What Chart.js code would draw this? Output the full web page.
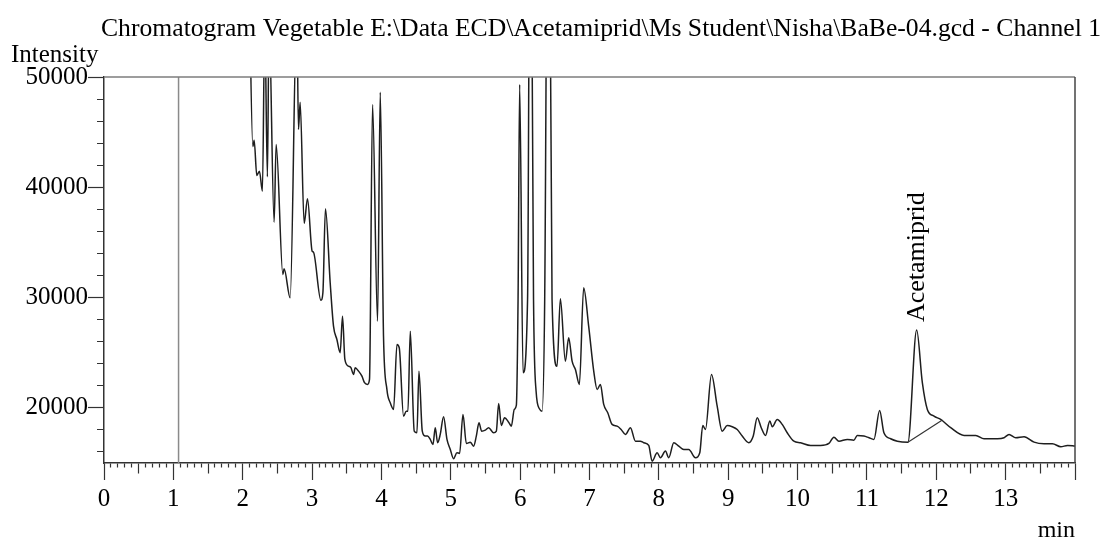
<!DOCTYPE html>
<html>
<head>
<meta charset="utf-8">
<script src="https://cdn.jsdelivr.net/npm/chart.js@4/dist/chart.umd.min.js"></script>
<style>
  html, body { margin: 0; padding: 0; background: #fff; }
  canvas { display: block; }
</style>
</head>
<body>
<canvas id="c" width="1107" height="543"></canvas>
<script>
// ---- Data ----
const titleText = "Chromatogram Vegetable E:\\Data ECD\\Acetamiprid\\Ms Student\\Nisha\\BaBe-04.gcd - Channel 1";
const yAxisLabel = "Intensity";
const xAxisLabel = "min";

// retention time (min)
const times = [
  2.09, 2.146, 2.165, 2.203, 2.241, 2.284, 2.318, 2.356, 2.38, 2.453,
  2.482, 2.579, 2.597, 2.684, 2.78, 2.804, 2.828, 2.886, 2.934, 3.001,
  3.020, 3.127, 3.156, 3.193, 3.261, 3.309, 3.358, 3.405, 3.439, 3.473,
  3.525, 3.560, 3.598, 3.622, 3.670, 3.719, 3.756, 3.799, 3.828, 3.872,
  3.944, 3.983, 4.030, 4.079, 4.127, 4.175, 4.224, 4.257, 4.319, 4.358,
  4.382, 4.416, 4.473, 4.512, 4.541, 4.589, 4.632, 4.665, 4.704, 4.743,
  4.776, 4.810, 4.848, 4.896, 4.945, 4.993, 5.040, 5.089, 5.127, 5.176,
  5.224, 5.281, 5.329, 5.368, 5.407, 5.444, 5.498, 5.545, 5.618, 5.657,
  5.690, 5.729, 5.776, 5.834, 5.873, 5.916, 5.945, 5.970, 5.993, 6.042,
  6.107, 6.147, 6.193, 6.23, 6.28, 6.316, 6.354, 6.407, 6.460, 6.532,
  6.580, 6.652, 6.700, 6.749, 6.797, 6.854, 6.916, 6.988, 7.061, 7.110,
  7.157, 7.205, 7.263, 7.326, 7.398, 7.456, 7.518, 7.590, 7.662, 7.734,
  7.782, 7.854, 7.903, 7.975, 8.023, 8.095, 8.143, 8.215, 8.287, 8.359,
  8.431, 8.528, 8.590, 8.633, 8.672, 8.759, 8.841, 8.913, 8.986, 9.058,
  9.130, 9.202, 9.297, 9.361, 9.418, 9.476, 9.538, 9.600, 9.635, 9.707,
  9.779, 9.851, 9.947, 10.043, 10.188, 10.332, 10.452, 10.524, 10.596, 10.717,
  10.812, 10.861, 10.957, 11.029, 11.101, 11.183, 11.245, 11.342, 11.438, 11.591,
  11.717, 11.799, 11.871, 11.967, 12.063, 12.208, 12.400, 12.569, 12.688, 12.882,
  12.977, 13.049, 13.146, 13.266, 13.410, 13.554, 13.675, 13.795, 13.892, 14.0
];
// detector intensity
const intensity = [
  60000, 43700, 44270, 41070, 41460, 39650, 55000, 40950, 55000, 36840,
  43880, 32100, 32610, 29980, 56000, 45240, 47720, 36720, 38960, 34210,
  34120, 29760, 30440, 38050, 31370, 27410, 26200, 25000, 28310, 24390,
  23780, 23640, 23030, 23640, 23330, 22870, 22280, 22120, 22580, 47510,
  27860, 48620, 26500, 21670, 20460, 19860, 25750, 25450, 19250, 19700,
  19700, 26950, 17890, 17740, 23330, 17890, 17440, 17440, 17140, 16680,
  18200, 16840, 17590, 19190, 17140, 16230, 15390, 15930, 15870, 19400,
  16770, 16890, 16530, 17440, 18650, 17890, 17980, 18200, 17740, 17890,
  20400, 18400, 19100, 18700, 18340, 19860, 20220, 29830, 49320, 23180,
  29830, 75000, 29830, 21500, 19900, 19700, 29830, 80000, 29830, 23780,
  29890, 24230, 26360, 24230, 23480, 22120, 30890, 27410, 23330, 21670,
  22120, 20310, 19560, 18500, 18340, 18040, 17590, 18200, 16980, 16980,
  16840, 16590, 15170, 15930, 15480, 16080, 15480, 16840, 16530, 16230,
  16230, 15480, 15930, 18400, 18040, 23030, 20150, 17890, 18400, 18290,
  18040, 17440, 16840, 17440, 19100, 18200, 17500, 18800, 18290, 18950,
  18500, 17740, 16980, 16840, 16590, 16590, 16770, 17340, 16980, 17140,
  17070, 17500, 17440, 17290, 17140, 19770, 17740, 17200, 16980, 16890,
  27050, 22280, 19860, 19250, 18950, 18200, 17500, 17500, 17200, 17200,
  17290, 17590, 17290, 17380, 16890, 16750, 16750, 16470, 16590, 16530
];

// injection / start marker
const markerTime = [1.075, 1.075];
const markerValue = [15000, 50000];

// integration baseline under the Acetamiprid peak
const baseTime = [11.591, 12.088];
const baseValue = [16890, 18890];

// peak annotation
const peakLabel = "Acetamiprid";
const peakTime = 11.717;
const peakValue = 27050;

// axis definitions
const xMin = 0, xMax = 14, xStep = 0.1;
const yMin = 15000, yMax = 50000, yStep = 1000, yMinor = 2000, yMajor = 10000;

const toPts = (xs, ys) => xs.map((t, i) => ({ x: t, y: ys[i] }));

const FONT = "'Liberation Serif', 'Times New Roman', serif";
Chart.defaults.font.family = FONT;
Chart.defaults.color = '#000';

const decor = {
  id: 'decor',
  afterDraw(chart) {
    const { ctx, chartArea: a, scales } = chart;
    const x = scales.x, y = scales.y;
    ctx.save();
    // top and right frame
    ctx.lineWidth = 1.5;
    ctx.strokeStyle = '#7d7d7d';
    ctx.beginPath(); ctx.moveTo(a.left, a.top); ctx.lineTo(a.right, a.top); ctx.stroke();
    ctx.strokeStyle = '#444';
    ctx.beginPath(); ctx.moveTo(a.right, a.top); ctx.lineTo(a.right, a.bottom); ctx.stroke();
    // title
    ctx.fillStyle = '#000';
    ctx.textAlign = 'left';
    ctx.textBaseline = 'alphabetic';
    ctx.font = '26px ' + FONT;
    ctx.fillText(titleText, 101, 36, 1000);
    // y label
    ctx.font = '25px ' + FONT;
    ctx.fillText(yAxisLabel, 11, 62);
    // peak annotation
    const px = x.getPixelForValue(peakTime);
    const py = y.getPixelForValue(peakValue);
    ctx.translate(px + 1, py - 8);
    ctx.rotate(-Math.PI / 2);
    ctx.textBaseline = 'middle';
    ctx.font = '26px ' + FONT;
    ctx.fillText(peakLabel, 0, 0);
    ctx.restore();
  }
};

const isInt = v => Math.abs(v - Math.round(v)) < 1e-6;
const yKind = v => {
  const r = Math.round(v);
  if (r % yMajor === 0) return 2;
  if (r % yMinor === 0 && r > yMin) return 1;
  return 0;
};

new Chart(document.getElementById('c'), {
  type: 'line',
  data: {
    datasets: [
      {
        data: toPts(markerTime, markerValue),
        borderColor: '#8a8a8a', borderWidth: 1.5, pointRadius: 0
      },
      {
        data: toPts(baseTime, baseValue),
        borderColor: '#333', borderWidth: 1.2, pointRadius: 0
      },
      {
        data: toPts(times, intensity),
        borderColor: '#1e1e1e', borderWidth: 1.5, pointRadius: 0,
        cubicInterpolationMode: 'monotone'
      }
    ]
  },
  options: {
    responsive: false,
    animation: false,
    devicePixelRatio: 1,
    layout: { padding: { top: 77, left: 0, right: 32, bottom: 0 } },
    plugins: { legend: { display: false }, tooltip: { enabled: false }, title: { display: false } },
    scales: {
      x: {
        type: 'linear', position: 'bottom',
        min: xMin, max: xMax,
        afterFit: s => { s.height = 80; },
        border: { display: true, color: '#333', width: 1.5 },
        grid: {
          drawOnChartArea: false, drawTicks: true, tickLength: 17,
          tickColor: '#333', tickWidth: 1.2,
          tickBorderDash: c => {
            const r = Math.round(c.tick.value * 10);
            if (r % 10 === 0) return [];
            if (r % 5 === 0) return [10, 100];
            return [4, 100];
          }
        },
        ticks: {
          stepSize: xStep, autoSkip: false, includeBounds: false,
          maxRotation: 0, minRotation: 0, padding: 4,
          font: { size: 25 }, color: '#000',
          callback: v => (isInt(v) && Math.round(v) < xMax) ? String(Math.round(v)) : ''
        },
        title: {
          display: true, text: xAxisLabel, align: 'end',
          font: { size: 24, lineHeight: 1 }, color: '#000',
          padding: { top: 0, bottom: 0 }
        }
      },
      y: {
        type: 'linear', position: 'left',
        min: yMin, max: yMax,
        afterFit: s => { s.width = 104; },
        border: { display: true, color: '#333', width: 1.5 },
        grid: {
          drawOnChartArea: false, drawTicks: true, tickLength: 16,
          tickWidth: 1.2,
          tickColor: c => yKind(c.tick.value) === 0 ? 'rgba(0,0,0,0)' : '#333',
          tickBorderDash: c => yKind(c.tick.value) === 2 ? [] : [0, 9, 7, 100]
        },
        ticks: {
          stepSize: yStep, includeBounds: true, autoSkip: false, padding: 0,
          font: { size: 25 }, color: '#000',
          callback: v => yKind(v) === 2 ? String(Math.round(v)) : ''
        }
      }
    }
  },
  plugins: [decor]
});
</script>
</body>
</html>
